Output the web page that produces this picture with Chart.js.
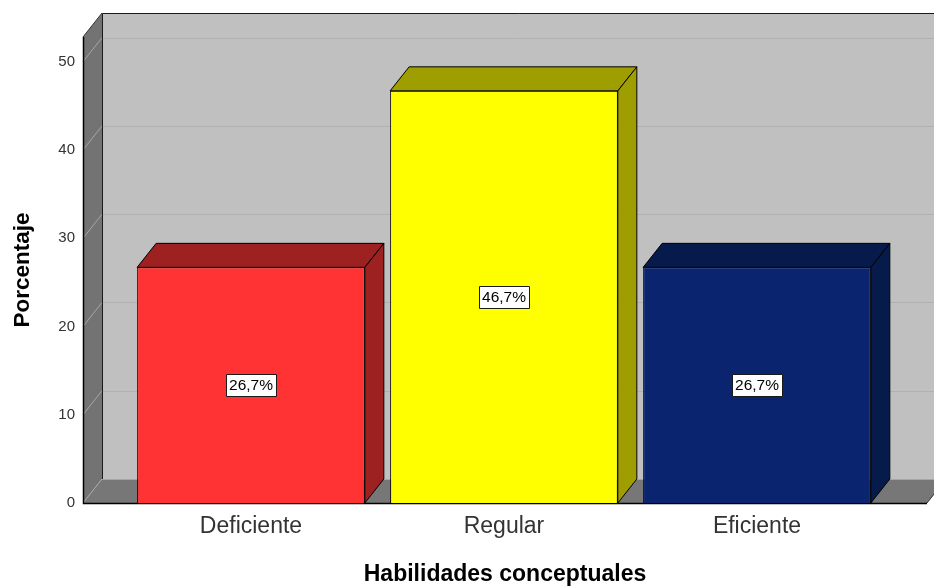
<!DOCTYPE html>
<html>
<head>
<meta charset="utf-8">
<script src="https://cdn.jsdelivr.net/npm/chart.js@4"></script>
<style>
  html, body { margin: 0; padding: 0; background: #ffffff; }
  #wrap { width: 934px; height: 586px; }
</style>
</head>
<body>
<div id="wrap"><canvas id="chart" width="934" height="586"></canvas></div>
<script>
// Categories, values and tick labels
const categories = ['Deficiente', 'Regular', 'Eficiente'];
const percentages = [26.7, 46.7, 26.7];
const valueLabels = ['26,7%', '46,7%', '26,7%'];
const yTicks = [0, 10, 20, 30, 40, 50];
const frontColors = ['#ff3333', '#ffff00', '#0b2470'];
const sideColors = ['#9e2121', '#9e9e00', '#061a4c'];

// depth offset of the 3D box
const DX = 19, DY = -24;
const FONT = '"Liberation Sans", Arial, sans-serif';

function poly(ctx, pts) {
  ctx.beginPath();
  ctx.moveTo(pts[0][0], pts[0][1]);
  for (let i = 1; i < pts.length; i++) ctx.lineTo(pts[i][0], pts[i][1]);
  ctx.closePath();
}

const box3d = {
  id: 'box3d',
  beforeDatasetsDraw(chart) {
    const { ctx, chartArea, scales } = chart;
    const L = chartArea.left, R = chartArea.right, T = chartArea.top, B = chartArea.bottom;
    const y = scales.y;
    ctx.save();
    // back wall
    ctx.fillStyle = '#c0c0c0';
    ctx.fillRect(L + DX, T + DY, R - L + 20, B - T);
    // back wall grid lines
    ctx.lineWidth = 1;
    ctx.strokeStyle = '#b1b1b1';
    yTicks.forEach(v => {
      if (v === 0) return;
      const py = Math.round(y.getPixelForValue(v)) + 0.5 + DY;
      ctx.beginPath();
      ctx.moveTo(L + DX, py);
      ctx.lineTo(R + DX + 20, py);
      ctx.stroke();
    });
    // left wall
    ctx.fillStyle = '#737373';
    poly(ctx, [[L, T], [L + DX, T + DY], [L + DX, B + DY], [L, B]]);
    ctx.fill();
    // floor
    ctx.fillStyle = '#777777';
    poly(ctx, [[L, B], [L + DX, B + DY], [R + DX, B + DY], [R, B]]);
    ctx.fill();
    // diagonal tick lines on the left wall
    ctx.strokeStyle = '#a6a6a6';
    yTicks.forEach(v => {
      const py = y.getPixelForValue(v);
      ctx.beginPath();
      ctx.moveTo(L, py);
      ctx.lineTo(L + DX, py + DY);
      ctx.stroke();
    });
    // floor back edge
    ctx.beginPath();
    ctx.moveTo(L + DX, B + DY + 0.5);
    ctx.lineTo(R + DX, B + DY + 0.5);
    ctx.stroke();
    // dark outlines
    ctx.strokeStyle = '#1a1a1a';
    ctx.beginPath();
    ctx.moveTo(L + DX + 0.5, B + DY);
    ctx.lineTo(L + DX + 0.5, T + DY + 0.5);
    ctx.lineTo(R + DX + 20, T + DY + 0.5);
    ctx.stroke();
    ctx.strokeStyle = '#333333';
    ctx.beginPath();
    ctx.moveTo(L, T);
    ctx.lineTo(L + DX, T + DY);
    ctx.moveTo(R, B);
    ctx.lineTo(R + DX, B + DY);
    ctx.stroke();
    ctx.strokeStyle = '#000000';
    ctx.lineWidth = 1.5;
    ctx.beginPath();
    ctx.moveTo(L + 0.5, T);
    ctx.lineTo(L + 0.5, B + 0.5);
    ctx.lineTo(R, B + 0.5);
    ctx.stroke();
    ctx.restore();
  },
  afterDatasetsDraw(chart) {
    const { ctx, scales } = chart;
    const meta = chart.getDatasetMeta(0);
    ctx.save();
    ctx.lineWidth = 1;
    ctx.strokeStyle = '#000000';
    ctx.lineJoin = 'round';
    meta.data.forEach((bar, i) => {
      const { x, y, base, width } = bar.getProps(['x', 'y', 'base', 'width'], true);
      const xl = x - width / 2, xr = x + width / 2;
      ctx.fillStyle = sideColors[i];
      // top face
      poly(ctx, [[xl, y], [xl + DX, y + DY], [xr + DX, y + DY], [xr, y]]);
      ctx.fill();
      ctx.stroke();
      // side face
      poly(ctx, [[xr, y], [xr + DX, y + DY], [xr + DX, base + DY], [xr, base]]);
      ctx.fill();
      ctx.stroke();
    });
    // value labels in the middle of each bar
    ctx.font = '15.5px ' + FONT;
    ctx.textAlign = 'center';
    ctx.textBaseline = 'middle';
    meta.data.forEach((bar, i) => {
      const cx = bar.x;
      const cy = Math.round(scales.y.getPixelForValue(percentages[i] / 2));
      const tw = ctx.measureText(valueLabels[i]).width;
      const bw = Math.round(tw + 6), bh = 22;
      const bx = Math.round(cx - bw / 2) + 0.5, by = Math.round(cy - bh / 2) + 0.5;
      ctx.fillStyle = '#ffffff';
      ctx.fillRect(bx, by, bw, bh);
      ctx.strokeStyle = '#1a1a1a';
      ctx.strokeRect(bx, by, bw, bh);
      ctx.fillStyle = '#000000';
      ctx.fillText(valueLabels[i], cx, cy + 1);
    });
    ctx.restore();
  }
};

const points = categories.map((c, i) => ({ x: i, y: percentages[i] }));

new Chart(document.getElementById('chart'), {
  type: 'bar',
  data: {
    datasets: [{
      data: points,
      backgroundColor: frontColors,
      borderColor: '#000000',
      borderWidth: 1,
      categoryPercentage: 1,
      barPercentage: 0.9
    }]
  },
  options: {
    responsive: false,
    animation: false,
    devicePixelRatio: 1,
    layout: { padding: { left: 0, right: 7, top: 37, bottom: 0 } },
    plugins: { legend: { display: false }, tooltip: { enabled: false } },
    scales: {
      x: {
        type: 'linear',
        min: -0.664,
        max: 2.672,
        offset: false,
        afterBuildTicks: s => { s.ticks = categories.map((c, i) => ({ value: i })); },
        afterFit: s => { s.height = 83; },
        grid: { display: false, drawTicks: false, offset: false },
        border: { display: false },
        ticks: {
          callback: v => categories[v],
          color: '#333333',
          font: { family: FONT, size: 23 },
          padding: 10,
          autoSkip: false,
          maxRotation: 0
        },
        title: {
          display: true,
          text: 'Habilidades conceptuales',
          color: '#000000',
          font: { family: FONT, size: 23, weight: 'bold', lineHeight: 1 },
          padding: { top: 0, bottom: 0 }
        }
      },
      y: {
        min: 0,
        max: 52.8,
        afterBuildTicks: s => { s.ticks = yTicks.map(v => ({ value: v })); },
        afterFit: s => { s.width = 83; },
        grid: { display: false, drawTicks: false },
        border: { display: false },
        ticks: {
          color: '#333333',
          font: { family: FONT, size: 15 },
          padding: 8
        },
        title: {
          display: true,
          text: 'Porcentaje',
          color: '#000000',
          font: { family: FONT, size: 22.5, weight: 'bold', lineHeight: 1.2 },
          padding: { top: 9, bottom: 0 }
        }
      }
    }
  },
  plugins: [box3d]
});
</script>
</body>
</html>
